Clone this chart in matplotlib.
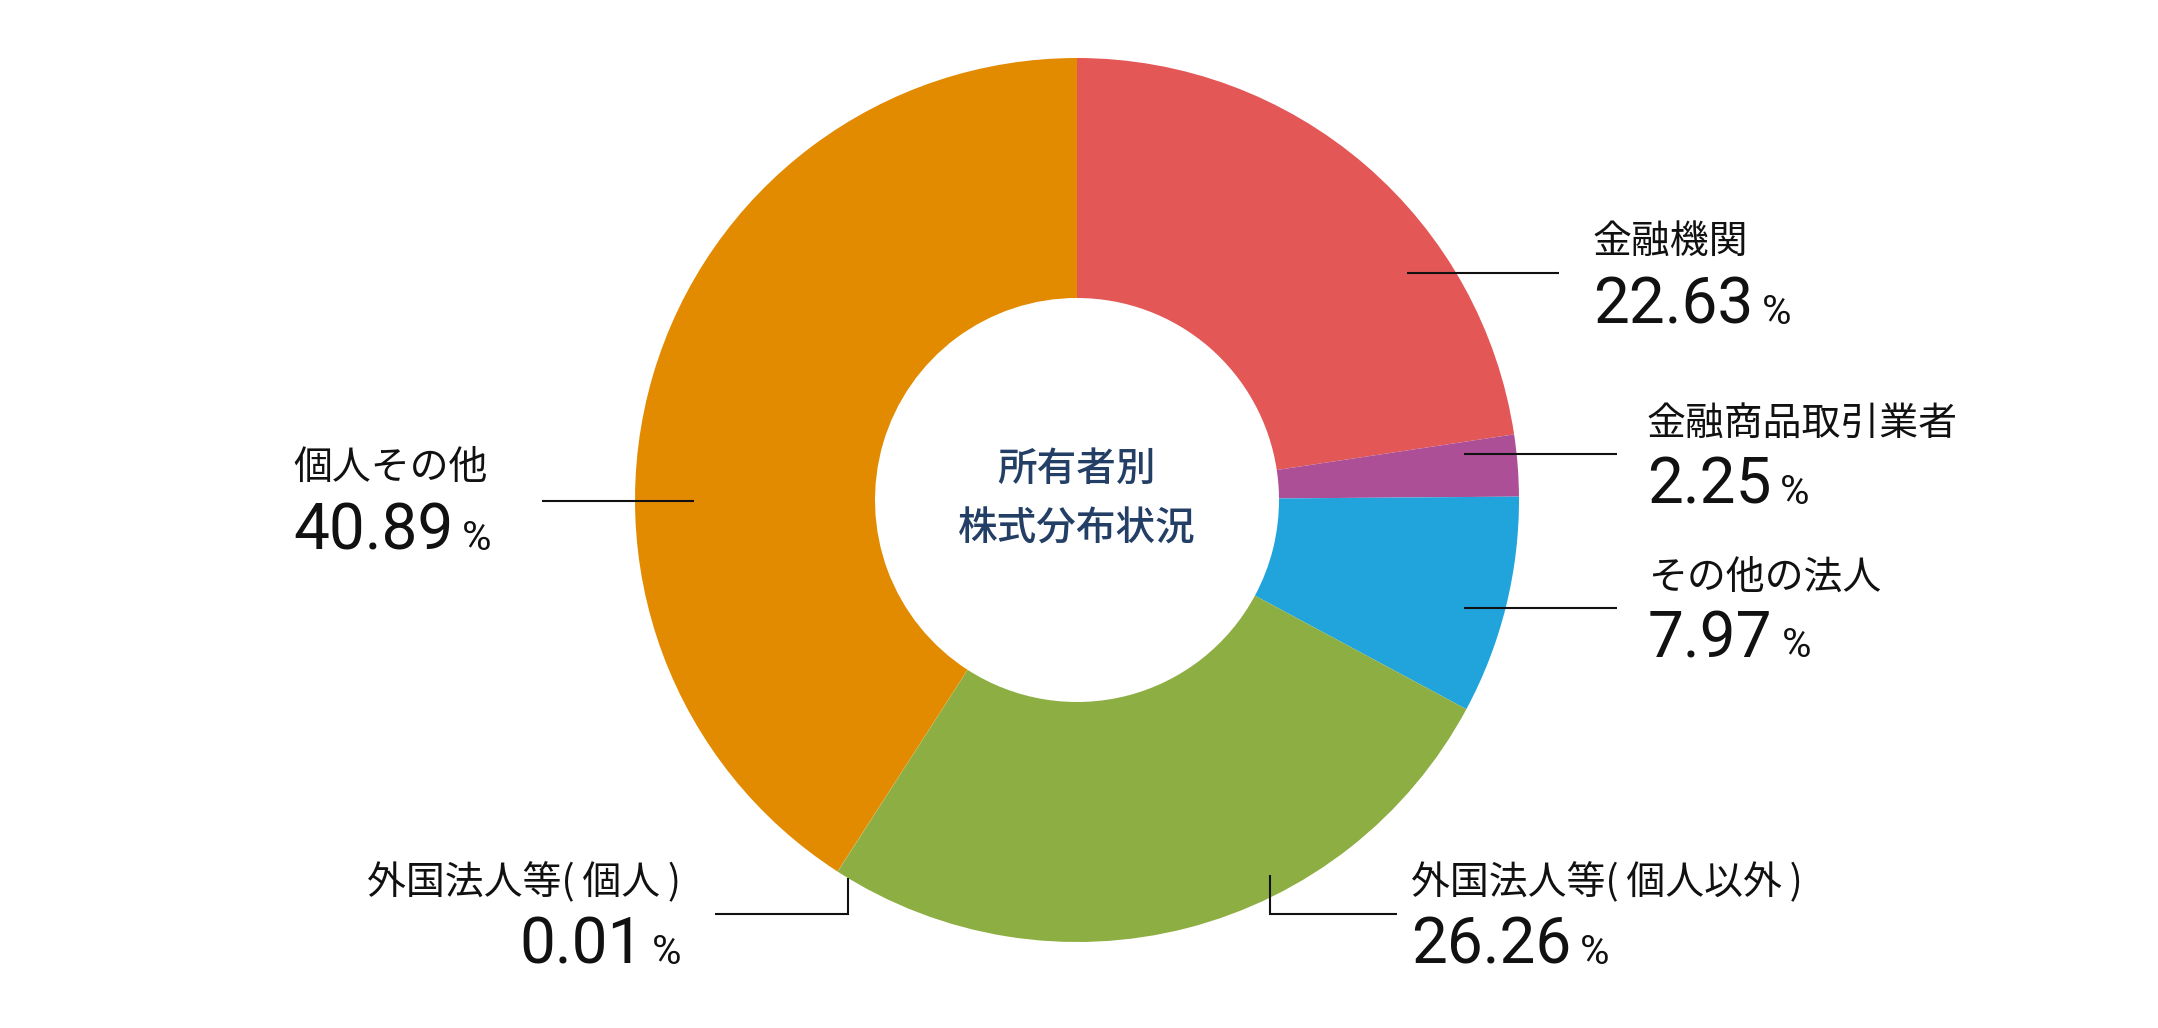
import matplotlib.pyplot as plt

plt.rcParams['font.family'] = ['Noto Sans CJK JP', 'DejaVu Sans']

# ownership shares, clockwise from 12 o'clock
labels = ['金融機関', '金融商品取引業者', 'その他の法人',
          '外国法人等(\u2009個人以外\u2009)', '外国法人等(\u2009個人\u2009)', '個人その他']
shares = [22.63, 2.25, 7.97, 26.26, 0.01, 40.89]
colors = ['#e35756', '#ad4f97', '#21a4dc', '#8dae42', '#8dae42', '#e38b00']
center_title = '所有者別\n株式分布状況'

W, H = 2158, 1028
fig = plt.figure(figsize=(W / 100, H / 100), dpi=100)
ax = fig.add_axes([0, 0, 1, 1])


def Y(y):
    # pixel rows are counted from the top
    return H - y


cx, cy, r_out, r_in = 1077, 500, 442, 202
ax.pie(shares, colors=colors, startangle=90, counterclock=False,
       center=(cx, Y(cy)), radius=r_out,
       wedgeprops=dict(width=r_out - r_in, linewidth=0))
ax.text(cx, Y(cy), center_title, ha='center', va='center', fontsize=28.5,
        fontweight='medium', color='#233f66', linespacing=1.62)

ax.set_xlim(0, W)
ax.set_ylim(0, H)
ax.set_aspect('equal')
ax.axis('off')

# label layout: (x, label centre y, number baseline y, align, leader line points)
layout = [
    (1593, 242, 324, 'left', [(1407, 273), (1559, 273)]),
    (1647, 424, 504, 'left', [(1464, 454), (1617, 454)]),
    (1648, 578, 657, 'left', [(1464, 608), (1617, 608)]),
    (1411, 883, 964, 'left', [(1270, 875), (1270, 914), (1397, 914)]),
    (681, 883, 964, 'right', [(715, 914), (848, 914), (848, 878)]),
    (293, 468, 550, 'left', [(542, 501), (694, 501)]),
]

num_font = ['Roboto', 'DejaVu Sans']
fig.canvas.draw()
rend = fig.canvas.get_renderer()

for lab, val, (x, ly, by, ha, pts) in zip(labels, shares, layout):
    xs = [p[0] for p in pts]
    ys = [Y(p[1]) for p in pts]
    ax.plot(xs, ys, color='#111111', linewidth=1.5, solid_capstyle='butt',
            solid_joinstyle='miter')
    ax.text(x, Y(ly), lab, ha=ha, va='center', fontsize=28, color='#111111')
    num = f'{val:.2f}'
    if ha == 'left':
        t = ax.text(x, Y(by), num, ha='left', va='baseline', fontsize=46,
                    family=num_font, color='#111111')
        ext = t.get_window_extent(rend)
        ax.text(ext.x1 + 9, Y(by), '%', ha='left', va='baseline', fontsize=29,
                family=num_font, color='#111111')
    else:
        p = ax.text(x, Y(by), '%', ha='right', va='baseline', fontsize=29,
                    family=num_font, color='#111111')
        ext = p.get_window_extent(rend)
        ax.text(ext.x0 - 8, Y(by), num, ha='right', va='baseline', fontsize=46,
                family=num_font, color='#111111')

fig.savefig('out.png', dpi=100, facecolor='white')
